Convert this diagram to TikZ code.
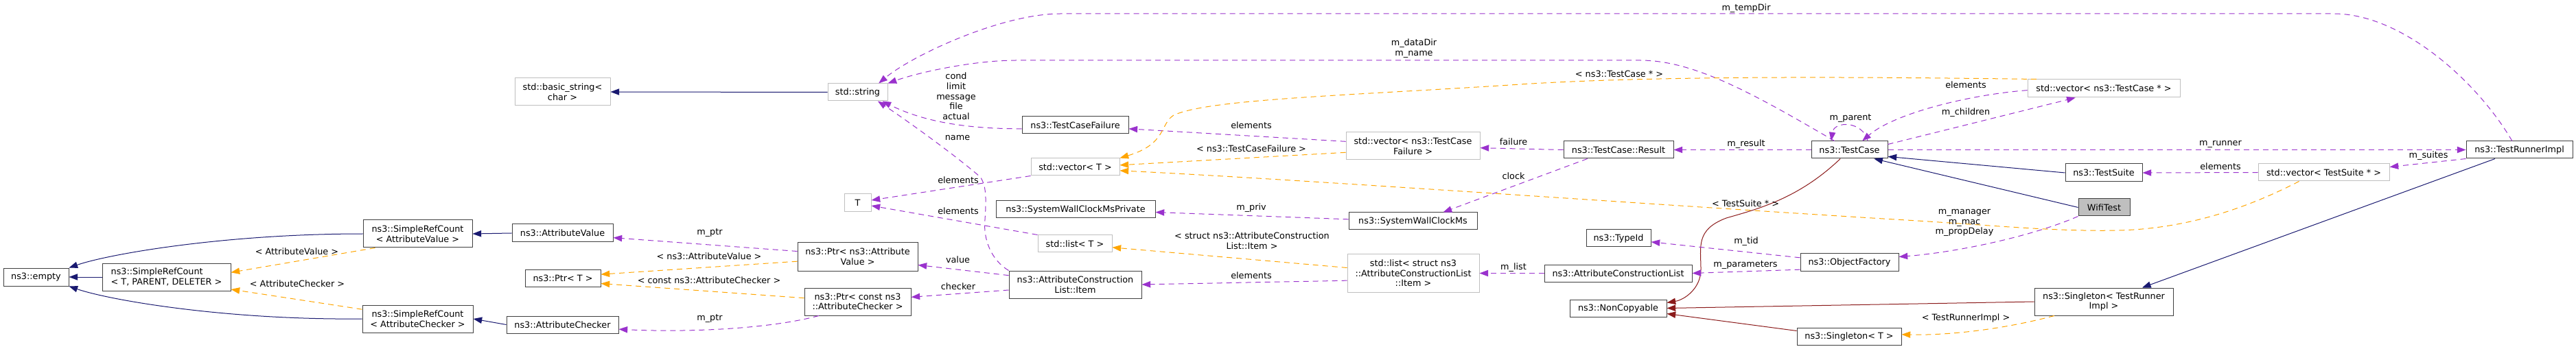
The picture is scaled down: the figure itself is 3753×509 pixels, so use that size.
\documentclass[tikz,border=0pt]{standalone}
\usepackage{fontspec}
\setmainfont{DejaVu Sans}
\usetikzlibrary{arrows.meta}
\definecolor{inhcol}{HTML}{191970}
\definecolor{usecol}{HTML}{9A32CD}
\definecolor{tplcol}{HTML}{FFA500}
\definecolor{nccol}{HTML}{8B1A1A}
\definecolor{undoc}{HTML}{BFBFBF}

\begin{document}
\begin{tikzpicture}[x=0.75pt, y=-0.75pt,
	font=\fontsize{9.6}{11}\selectfont,
	cls/.style 2 args={draw=black!75, fill=white, line width=0.75pt, inner sep=0pt,
		minimum width=#1*0.75pt, minimum height=#2*0.75pt, align=center},
	ext/.style 2 args={cls={#1}{#2}, draw=undoc},
	tip/.style={-{Triangle[length=9.5pt,width=7pt]}},
	inh/.style={draw=inhcol, line width=0.75pt, tip},
	ncp/.style={draw=nccol, line width=0.75pt, tip},
	use/.style={draw=usecol, line width=0.75pt, dash pattern=on 6pt off 4.5pt, tip},
	tpl/.style={draw=tplcol, line width=0.75pt, dash pattern=on 6pt off 4.5pt, tip},
	lbl/.style={inner sep=0pt, align=center}]
	\useasboundingbox (0,0) rectangle (3753,509);

	\node[cls={95}{26}] (empty) at (52.5,404) {ns3::empty};
	\node[cls={187}{40}, align=left] (srcT) at (242.5,404) {ns3::SimpleRefCount\\< T, PARENT, DELETER >};
	\node[cls={159}{40}] (srcAV) at (608.5,341) {ns3::SimpleRefCount\\< AttributeValue >};
	\node[cls={161}{40}] (srcAC) at (608.5,465) {ns3::SimpleRefCount\\< AttributeChecker >};
	\node[ext={139}{40}] (bstr) at (819.5,134) {std::basic\_string<\\char >};
	\node[cls={147}{26}] (attval) at (819.5,340) {ns3::AttributeValue};
	\node[cls={110}{25}] (ptrT) at (820,405.5) {ns3::Ptr< T >};
	\node[cls={163}{25}] (attchk) at (819.5,473.5) {ns3::AttributeChecker};
	\node[ext={87}{25}] (str) at (1249.5,134.5) {std::string};
	\node[ext={39}{26}] (tT) at (1249.5,296) {T};
	\node[cls={175}{41}] (ptrAV) at (1249.5,374.5) {ns3::Ptr< ns3::Attribute\\Value >};
	\node[cls={155}{40}] (ptrAC) at (1249.5,440) {ns3::Ptr< const ns3\\::AttributeChecker >};
	\node[cls={155}{25}] (tcf) at (1566.5,182.5) {ns3::TestCaseFailure};
	\node[ext={129}{25}] (vecT) at (1566.5,243.5) {std::vector< T >};
	\node[cls={232}{25}] (swcmp) at (1567,305.5) {ns3::SystemWallClockMsPrivate};
	\node[ext={108}{25}] (listT) at (1566,355.5) {std::list< T >};
	\node[cls={193}{40}] (item) at (1566.5,415) {ns3::AttributeConstruction\\List::Item};
	\node[ext={195}{40}] (vecTCF) at (2058.5,213) {std::vector< ns3::TestCase\\Failure >};
	\node[cls={187}{25}] (swcm) at (2058.5,322.5) {ns3::SystemWallClockMs};
	\node[ext={192}{55}] (listItem) at (2059,398.5) {std::list< struct ns3\\::AttributeConstructionList\\::Item >};
	\node[cls={160}{25}] (result) at (2358,218.5) {ns3::TestCase::Result};
	\node[cls={94}{25}] (typeid) at (2358,347.5) {ns3::TypeId};
	\node[cls={215}{25}] (acl) at (2357.5,398.5) {ns3::AttributeConstructionList};
	\node[cls={141}{25}] (noncopy) at (2357.5,449.5) {ns3::NonCopyable};
	\node[cls={111}{25}] (tcase) at (2694.5,218.5) {ns3::TestCase};
	\node[cls={143}{25}] (objf) at (2694.5,382.5) {ns3::ObjectFactory};
	\node[cls={152}{25}] (singT) at (2694,490.5) {ns3::Singleton< T >};
	\node[ext={222}{26}] (vecTC) at (3065,129) {std::vector< ns3::TestCase * >};
	\node[cls={112}{26}] (tsuite) at (3065,252) {ns3::TestSuite};
	\node[cls={75}{25}, fill=undoc] (wifi) at (3065.5,302.5) {WifiTest};
	\node[cls={202}{40}] (singTRI) at (3065,440) {ns3::Singleton< TestRunner\\Impl >};
	\node[ext={191}{25}] (vecTS) at (3385.5,251.5) {std::vector< TestSuite * >};
	\node[cls={155}{25}] (tri) at (3670.5,218.5) {ns3::TestRunnerImpl};

	\draw [inh] (srcT.west) -- (empty.east);
	\draw [inh] (srcAV.west) .. controls (330,341) and (160,370) .. (empty.north east);
	\draw [inh] (srcAC.west) .. controls (330,467) and (160,438) .. (empty.south east);
	\draw [inh] (attval.west) -- (srcAV.east);
	\draw [inh] (attchk.west) -- (srcAC.east);
	\draw [inh] (str.west) -- (bstr.east);
	\draw [inh] (tsuite.west) -- (tcase.-10);
	\draw [inh] (wifi.west) -- (tcase.-20);
	\draw [inh] (tri) -- (singTRI);

	\draw [ncp] ([xshift=-10pt]tcase.south) .. controls (2620,290) and (2560,305) .. (2515,318) .. controls (2470,335) and (2478,360) .. (2478,393) .. controls (2478,420) and (2455,437) .. ([yshift=6pt]noncopy.east);
	\draw [ncp] (singTRI.west) -- (noncopy.east);
	\draw [ncp] ([yshift=6pt]singT.west) -- ([yshift=-6pt]noncopy.east);

	\draw [use] ([xshift=-8pt]tri.north) .. controls (3610,120) and (3500,20) .. (3400,20) -- (1545,20) .. controls (1460,20) and (1330,80) .. ([xshift=-10pt]str.north east) node [lbl] at (2544,12) {m\_tempDir};
	\draw [use] ([xshift=-16.5pt]tcase.north) .. controls (2560,140) and (2470,88) .. (2390,88) -- (1480,88) .. controls (1420,88) and (1340,105) .. (str.north east) node [lbl] at (2060,70.5) {m\_dataDir\\m\_name};
	\draw [use] ([yshift=-4pt]tcf.west) .. controls (1400,188) and (1340,175) .. ([xshift=-6pt]str.south east) node [lbl] at (1393,140.5) {cond\\limit\\message\\file\\actual};
	\draw [use] (item.north west) .. controls (1445,380) and (1432,350) .. (1435,320) .. controls (1437,290) and (1437,270) .. (1428,258) .. controls (1390,225) and (1320,175) .. ([xshift=-11pt]str.south east) node [lbl] at (1395,201) {name};
	\draw [use] (vecT.south west) -- ([yshift=3pt]tT.east) node [lbl] at (1396,263) {elements};
	\draw [use] (listT.north west) -- ([yshift=-3pt]tT.east) node [lbl] at (1396,308) {elements};
	\draw [use] ([yshift=6pt]ptrAV.west) -- ([yshift=-5pt]attval.east) node [lbl] at (1034,340) {m\_ptr};
	\draw [use] ([xshift=16pt]ptrAC.south west) .. controls (1120,480) and (1000,485) .. ([yshift=-5pt]attchk.east) node [lbl] at (1034,465) {m\_ptr};
	\draw [use] ([yshift=10pt]item.west) -- ([yshift=-9pt]ptrAV.east) node [lbl] at (1395.5,379) {value};
	\draw [use] ([yshift=-6pt]item.west) -- ([yshift=5pt]ptrAC.east) node [lbl] at (1396,418) {checker};
	\draw [use] ([yshift=5pt]vecTCF.west) -- ([yshift=-4pt]tcf.east) node [lbl] at (1823,183) {elements};
	\draw [use] ([yshift=2pt]swcm.west) -- ([yshift=-3pt]swcmp.east) node [lbl] at (1823,303) {m\_priv};
	\draw [use] ([yshift=-8pt]listItem.west) -- (item.east) node [lbl] at (1823,402) {elements};
	\draw [use] (result.west) -- ([yshift=-2pt]vecTCF.east) node [lbl] at (2205,207) {failure};
	\draw [use] ([xshift=-34pt]result.south) -- ([xshift=33pt]swcm.north) node [lbl] at (2205,257) {clock};
	\draw [use] (acl.west) -- (listItem.east) node [lbl] at (2205,390) {m\_list};
	\draw [use] (tcase.west) -- (result.east) node [lbl] at (2544,210) {m\_result};
	\draw [use] ([yshift=5pt]objf.west) -- ([yshift=-4pt]typeid.east) node [lbl] at (2544,352) {m\_tid};
	\draw [use] ([yshift=-8pt]objf.west) -- (acl.east) node [lbl] at (2543,387) {m\_parameters};
	\draw [use] (wifi.south west) .. controls (2960,345) and (2850,368) .. ([yshift=6pt]objf.east) node [lbl] at (2862,325) {m\_manager\\m\_mac\\m\_propDelay};
	\draw [use] ([xshift=20pt]tcase.north) .. controls (2714,176) and (2672,176) .. ([xshift=-20pt]tcase.north) node [lbl] at (2696,173) {m\_parent};
	\draw [use] ([yshift=-2pt]vecTC.west) .. controls (2870,138) and (2760,165) .. ([xshift=14pt]tcase.north) node [lbl] at (2864,124) {elements};
	\draw [use] ([yshift=6pt]tcase.east) -- ([xshift=-31pt]vecTC.south) node [lbl] at (2864,164) {m\_children};
	\draw [use] (tcase.east) -- (tri.west) node [lbl] at (3235,210) {m\_runner};
	\draw [use] (vecTS.west) -- (tsuite.east) node [lbl] at (3235,243) {elements};
	\draw [use] (tri.south west) -- ([yshift=6pt]vecTS.east) node [lbl] at (3538,227) {m\_suites};

	\draw [tpl] ([xshift=13.5pt]srcAV.south west) -- ([yshift=5pt]srcT.east) node [lbl] at (432.5,367) {< AttributeValue >};
	\draw [tpl] ([yshift=-5pt]srcAC.north west) -- ([yshift=-13.5pt]srcT.east) node [lbl] at (433,414) {< AttributeChecker >};
	\draw [tpl] ([yshift=-5pt]ptrAV.west) -- ([yshift=4pt]ptrT.east) node [lbl] at (1033,374) {< ns3::AttributeValue >};
	\draw [tpl] ([yshift=4pt]ptrAC.west) -- ([yshift=-6pt]ptrT.east) node [lbl] at (1033,409) {< const ns3::AttributeChecker >};
	\draw [tpl] ([xshift=10pt]vecTC.north west) .. controls (2700,112) and (2400,110) .. (2200,124) .. controls (1950,140) and (1760,145) .. (1710,168) .. controls (1690,180) and (1700,210) .. (vecT.north east) node [lbl] at (2359,108) {< ns3::TestCase * >};
	\draw [tpl] ([yshift=-7pt]vecTCF.west) -- ([yshift=2pt]vecT.east) node [lbl] at (1823,217) {< ns3::TestCaseFailure >};
	\draw [tpl] ([xshift=-27pt]vecTS.south) .. controls (3290,295) and (3200,333) .. (3087,336) .. controls (2990,338) and (2900,328) .. (2760,320) .. controls (2400,298) and (1900,262) .. ([yshift=-4pt]vecT.east) node [lbl] at (2543,297) {< TestSuite * >};
	\draw [tpl] ([yshift=6pt]listItem.west) -- ([yshift=-4pt]listT.east) node [lbl] at (1824,351.5) {< struct ns3::AttributeConstruction\\List::Item >};
	\draw [tpl] ([xshift=22pt]singTRI.south west) .. controls (2900,485) and (2820,489) .. ([yshift=2pt]singT.east) node [lbl] at (2864,464) {< TestRunnerImpl >};
\end{tikzpicture}
\end{document}
